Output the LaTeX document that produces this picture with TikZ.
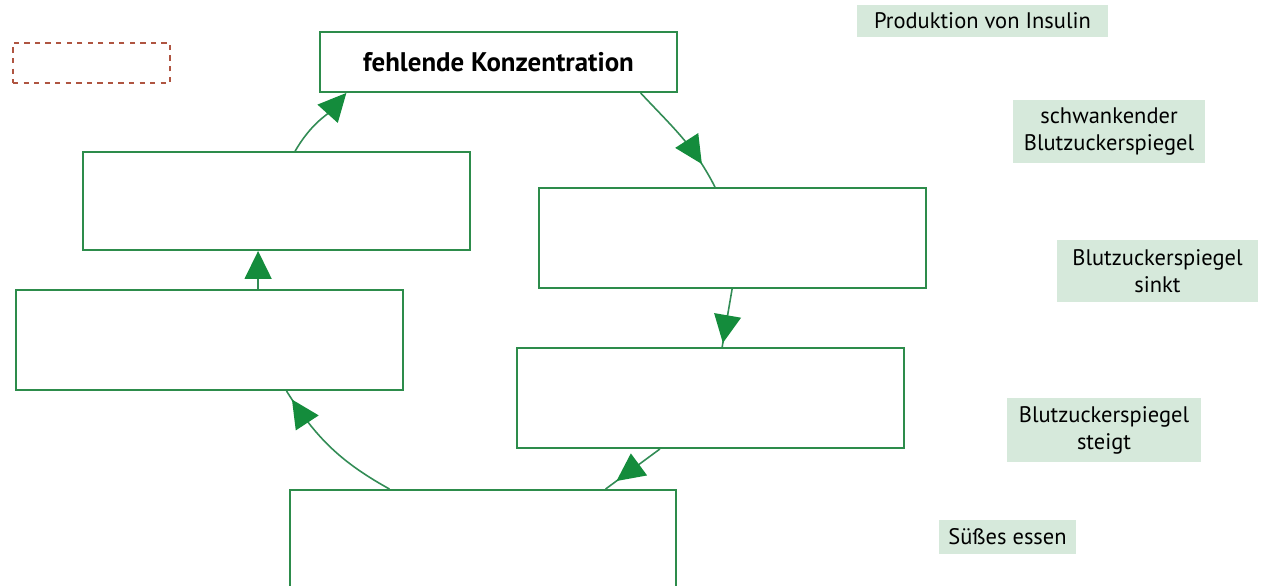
\documentclass[tikz,border=0pt]{standalone}
\usepackage{fontspec}
\setmainfont{PT Sans}
\usetikzlibrary{arrows.meta,calc,decorations.markings}
\definecolor{boxgreen}{RGB}{45,140,75}
\definecolor{linegreen}{RGB}{50,140,85}
\definecolor{headgreen}{RGB}{20,140,60}
\definecolor{labelbg}{RGB}{214,233,219}
\definecolor{dashred}{RGB}{175,85,65}
\begin{document}
\begin{tikzpicture}[x=0.02cm,y=0.02cm,
  cbox/.style={draw=boxgreen,line width=1.1pt,fill=white,inner sep=0pt,minimum width=7.74cm,minimum height=2cm},
  lab/.style={fill=labelbg,inner sep=0pt,align=center,font=\fontsize{12.8}{15.3}\selectfont,text=black},
  conn/.style={draw=linegreen,line width=0.9pt},
  endhead/.style={-{Triangle[length=0.56cm,width=0.54cm,color=headgreen]}},
  midhead/.style={postaction={decorate},decoration={markings,mark=at position #1 with {\arrow{Triangle[length=0.56cm,width=0.54cm,color=headgreen]}}}}]
\useasboundingbox (0,0) rectangle (1261,-585);
\fill[white] (0,0) rectangle (1261,-585);

% dashed box
\node[draw=dashred,dashed,line width=0.9pt,minimum width=3.14cm,minimum height=0.8cm,inner sep=0pt] (dash) at (91.5,-63) {};

% boxes
\node[cbox,minimum width=7.14cm,minimum height=1.2cm,font=\bfseries\fontsize{15.3}{18}\selectfont] (top) at (498.5,-62) {fehlende Konzentration};
\node[cbox,minimum height=1.96cm] (lu) at (276.5,-201) {};
\node[cbox] (ru) at (732.5,-238) {};
\node[cbox] (ll) at (209.5,-340) {};
\node[cbox] (rl) at (710.5,-398) {};
\node[cbox,minimum width=7.72cm] (bot) at (483,-540) {};

% labels
\node[lab,minimum width=5.02cm,minimum height=0.64cm] (prod) at (982.5,-21) {Produktion von Insulin};
\node[lab,minimum width=3.84cm,minimum height=1.26cm] (schw) at (1109,-131.5) {schwankender\\Blutzuckerspiegel};
\node[lab,minimum width=4.02cm,minimum height=1.24cm] (sinkt) at (1157.5,-271) {Blutzuckerspiegel\\sinkt};
\node[lab,minimum width=3.88cm,minimum height=1.28cm] (steigt) at (1104,-430) {Blutzuckerspiegel\\steigt};
\node[lab,minimum width=2.74cm,minimum height=0.68cm] (suess) at (1007.5,-537) {Süßes essen};

% connectors
\draw[conn,endhead] ($(lu.north west)!0.548!(lu.north east)$) to[out=60,in=228] ($(top.south west)!0.076!(top.south east)$);
\draw[conn,midhead=0.78] ($(top.south west)!0.896!(top.south east)$) to[out=-47,in=117] ($(ru.north west)!0.455!(ru.north east)$);
\draw[conn,midhead=0.93] ($(ru.south west)!0.499!(ru.south east)$) -- ($(rl.north west)!0.53!(rl.north east)$);
\draw[conn,midhead=0.8] ($(rl.south west)!0.37!(rl.south east)$) -- ($(bot.north west)!0.816!(bot.north east)$);
\draw[conn,midhead=0.93] ($(bot.north west)!0.259!(bot.north east)$) to[out=151,in=-58] ($(ll.south west)!0.698!(ll.south east)$);
\coordinate (llup) at ($(ll.north west)!0.625!(ll.north east)$);
\draw[conn,endhead] (llup) -- (llup |- lu.south);
\end{tikzpicture}
\end{document}
